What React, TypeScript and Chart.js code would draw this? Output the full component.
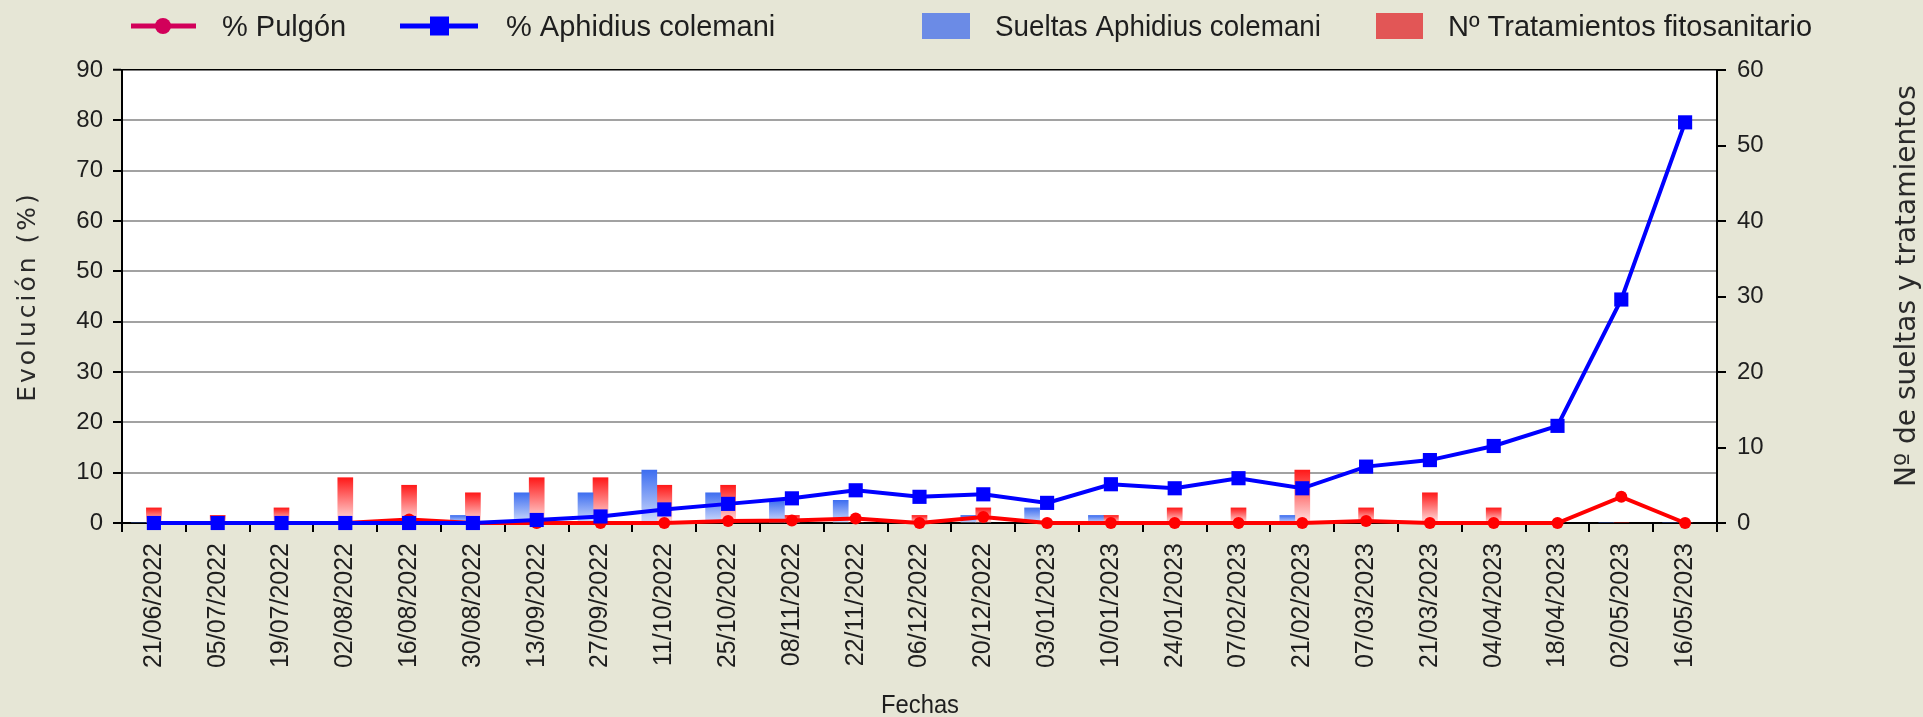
import React, { useEffect, useRef } from 'react';
import { Chart, registerables } from 'chart.js';

Chart.register(...registerables);

// ---------- DATA ----------
const fechas = [
  '21/06/2022', '05/07/2022', '19/07/2022', '02/08/2022', '16/08/2022',
  '30/08/2022', '13/09/2022', '27/09/2022', '11/10/2022', '25/10/2022',
  '08/11/2022', '22/11/2022', '06/12/2022', '20/12/2022', '03/01/2023',
  '10/01/2023', '24/01/2023', '07/02/2023', '21/02/2023', '07/03/2023',
  '21/03/2023', '04/04/2023', '18/04/2023', '02/05/2023', '16/05/2023',
];
const pulgon = [0, 0, 0, 0, 0.7, 0, 0, 0, 0, 0.4, 0.5, 0.9, 0, 1.2, 0, 0, 0, 0, 0, 0.4, 0, 0, 0, 5.2, 0];
const aphidius = [0, 0, 0, 0, 0, 0, 0.6, 1.3, 2.7, 3.8, 4.9, 6.5, 5.2, 5.7, 4.0, 7.7, 6.9, 8.9, 6.9, 11.2, 12.5, 15.3, 19.3, 44.4, 79.6];
const sueltas = [0, 0, 0, 0, 0, 1, 4, 4, 7, 4, 3, 3, 0, 1, 2, 1, 0, 0, 1, 0, 0, 0, 0, 0, 0];
const tratamientos = [2, 1, 2, 6, 5, 4, 6, 6, 5, 5, 1, 0, 1, 2, 0, 1, 2, 2, 7, 2, 4, 2, 0, 0, 0];
const hueco = fechas.map(() => null);

const seriesNames = ['% Pulgón', '% Aphidius colemani', 'Sueltas Aphidius colemani', 'Nº Tratamientos fitosanitario'];
const leftTitle = 'Evolución (%)';
const rightTitle = 'Nº de sueltas y tratamientos';
const xTitle = 'Fechas';
const leftRange = [0, 90, 10];
const rightRange = [0, 60, 10];

// ---------- STYLE ----------
const BG = '#E6E6D6';
const TICK_FONT = "'Liberation Sans', Arial, sans-serif";
const TITLE_FONT = "'DejaVu Sans', Verdana, sans-serif";
const TEXT = '#1e1e1e';

function barGradient(top: string, bottom: string) {
  return (c: any) => {
    const chart = c.chart;
    const s = chart.scales ? chart.scales.y2 : null;
    if (!s || c.raw == null || c.raw === 0) return top;
    const yTop = s.getPixelForValue(c.raw);
    const yBase = s.getPixelForValue(0);
    if (!isFinite(yTop) || !isFinite(yBase) || yTop === yBase) return top;
    const g = chart.ctx.createLinearGradient(0, yTop, 0, yBase);
    g.addColorStop(0, top);
    g.addColorStop(1, bottom);
    return g;
  };
}

const bgPlugin = {
  id: 'bgPlugin',
  beforeDraw(chart: any) {
    const { ctx, chartArea: a, width, height } = chart;
    ctx.save();
    ctx.fillStyle = BG;
    ctx.fillRect(0, 0, width, height);
    ctx.fillStyle = '#FFFFFF';
    ctx.fillRect(a.left, a.top, a.right - a.left, a.bottom - a.top);
    ctx.restore();
  },
};

const decorPlugin = {
  id: 'decorPlugin',
  afterDraw(chart: any) {
    const ctx = chart.ctx;
    const a = chart.chartArea;

    // Left axis title
    ctx.save();
    ctx.fillStyle = '#2a2a2a';
    ctx.font = `25px ${TITLE_FONT}`;
    (ctx as any).letterSpacing = '3px';
    ctx.textAlign = 'center';
    ctx.textBaseline = 'middle';
    ctx.translate(28, (a.top + a.bottom) / 2);
    ctx.rotate(-Math.PI / 2);
    ctx.fillText(leftTitle, 0, 0);
    ctx.restore();

    // Right axis title
    ctx.save();
    ctx.fillStyle = '#2a2a2a';
    ctx.font = `28px ${TITLE_FONT}`;
    ctx.textAlign = 'center';
    ctx.textBaseline = 'middle';
    ctx.translate(1908, 286);
    ctx.rotate(-Math.PI / 2);
    ctx.fillText(rightTitle, 0, 0);
    ctx.restore();

    // X title
    ctx.save();
    ctx.fillStyle = TEXT;
    ctx.font = `26px ${TICK_FONT}`;
    ctx.textAlign = 'center';
    ctx.textBaseline = 'alphabetic';
    ctx.fillText(xTitle, 920, 713, 78);
    ctx.restore();

    // Legend
    ctx.save();
    const ly = 26;
    ctx.font = `29px ${TICK_FONT}`;
    ctx.fillStyle = TEXT;
    ctx.textBaseline = 'alphabetic';
    ctx.textAlign = 'left';
    // % Pulgón
    ctx.strokeStyle = 'rgb(210,0,90)';
    ctx.lineWidth = 5;
    ctx.beginPath(); ctx.moveTo(131, ly); ctx.lineTo(196, ly); ctx.stroke();
    ctx.fillStyle = 'rgb(210,0,90)';
    ctx.beginPath(); ctx.arc(163, ly, 8, 0, Math.PI * 2); ctx.fill();
    ctx.fillStyle = TEXT;
    ctx.fillText(seriesNames[0], 222, 36);
    // % Aphidius colemani
    ctx.strokeStyle = '#0000FF';
    ctx.beginPath(); ctx.moveTo(400, ly); ctx.lineTo(478, ly); ctx.stroke();
    ctx.fillStyle = '#0000FF';
    ctx.fillRect(430, ly - 9.5, 19, 19);
    ctx.fillStyle = TEXT;
    ctx.fillText(seriesNames[1], 506, 36);
    // Sueltas box
    ctx.fillStyle = '#6B8BE6';
    ctx.fillRect(922, 13, 48, 26);
    ctx.fillStyle = TEXT;
    ctx.fillText(seriesNames[2], 995, 36, 326);
    // Tratamientos box
    ctx.fillStyle = '#E25656';
    ctx.fillRect(1376, 13, 47, 26);
    ctx.fillStyle = TEXT;
    ctx.fillText(seriesNames[3], 1448, 36);
    ctx.restore();
  },
};

export default function App() {
  const ref = useRef<HTMLCanvasElement>(null);

  useEffect(() => {
    if (!ref.current) return;
    const chart = new Chart(ref.current, {
      data: {
        labels: fechas,
        datasets: [
          {
            type: 'line',
            label: seriesNames[1],
            data: aphidius,
            yAxisID: 'y',
            borderColor: '#0000FF',
            backgroundColor: '#0000FF',
            borderWidth: 4,
            pointStyle: 'rect',
            pointRadius: 10,
            pointBorderWidth: 0,
            tension: 0,
            clip: false,
            order: 1,
          },
          {
            type: 'line',
            label: seriesNames[0],
            data: pulgon,
            yAxisID: 'y',
            borderColor: '#FF0000',
            backgroundColor: '#FF0000',
            borderWidth: 4,
            pointStyle: 'circle',
            pointRadius: 6,
            pointBorderWidth: 0,
            tension: 0,
            clip: false,
            order: 2,
          },
          {
            type: 'bar',
            label: seriesNames[2],
            data: sueltas,
            yAxisID: 'y2',
            backgroundColor: barGradient('rgb(62,110,240)', 'rgb(208,220,252)'),
            borderWidth: 0,
            barThickness: 15,
            order: 3,
          },
          {
            type: 'bar',
            label: seriesNames[3],
            data: tratamientos,
            yAxisID: 'y2',
            backgroundColor: barGradient('rgb(255,25,25)', 'rgb(255,228,228)'),
            borderWidth: 0,
            barThickness: 15,
            order: 3,
          },
          {
            type: 'bar',
            label: '',
            data: hueco,
            yAxisID: 'y2',
            backgroundColor: 'rgba(0,0,0,0)',
            borderWidth: 0,
            barThickness: 15,
            order: 3,
          },
        ],
      } as any,
      options: {
        responsive: false,
        animation: false,
        devicePixelRatio: 1,
        layout: { padding: { top: 70, left: 0, right: 0, bottom: 0 } },
        plugins: {
          legend: { display: false },
          tooltip: { enabled: false },
        },
        scales: {
          x: {
            type: 'category',
            offset: true,
            grid: {
              display: true,
              drawOnChartArea: false,
              drawTicks: true,
              tickLength: 9,
              tickWidth: 2,
              tickColor: '#000',
              color: '#000',
              lineWidth: 2,
              offset: true,
            },
            border: { display: true, color: '#000', width: 2 },
            ticks: {
              autoSkip: false,
              maxRotation: 90,
              minRotation: 90,
              padding: 11,
              color: TEXT,
              font: { family: TICK_FONT, size: 25 },
            },
            afterFit: (s: any) => { s.height = 194; },
          },
          y: {
            position: 'left',
            min: leftRange[0],
            max: leftRange[1],
            ticks: {
              stepSize: leftRange[2],
              padding: 10,
              color: TEXT,
              font: { family: TICK_FONT, size: 24 },
            },
            grid: {
              drawTicks: true,
              tickLength: 9,
              tickWidth: 2,
              tickColor: '#000',
              color: (c: any) => (c.tick && c.tick.value === leftRange[1] ? '#000' : c.tick && c.tick.value === 0 ? 'rgba(0,0,0,0)' : '#A2A2A2'),
              lineWidth: (c: any) => (c.tick && c.tick.value === leftRange[1] ? 1.5 : 2),
            },
            border: { display: true, color: '#000', width: 2 },
            afterFit: (s: any) => { s.width = 122; },
          },
          y2: {
            position: 'right',
            min: rightRange[0],
            max: rightRange[1],
            ticks: {
              stepSize: rightRange[2],
              padding: 11,
              color: TEXT,
              font: { family: TICK_FONT, size: 24 },
            },
            grid: {
              drawOnChartArea: false,
              drawTicks: true,
              tickLength: 9,
              tickWidth: 2,
              tickColor: '#000',
              color: '#000',
              lineWidth: 2,
            },
            border: { display: true, color: '#000', width: 2 },
            afterFit: (s: any) => { s.width = 206; },
          },
        },
      } as any,
      plugins: [bgPlugin, decorPlugin],
    });
    return () => chart.destroy();
  }, []);

  return (
    <div style={{ position: 'fixed', left: 0, top: 0, width: 1923, height: 717, background: BG }}>
      <canvas ref={ref} width={1923} height={717} style={{ display: 'block', width: 1923, height: 717 }} />
    </div>
  );
}
